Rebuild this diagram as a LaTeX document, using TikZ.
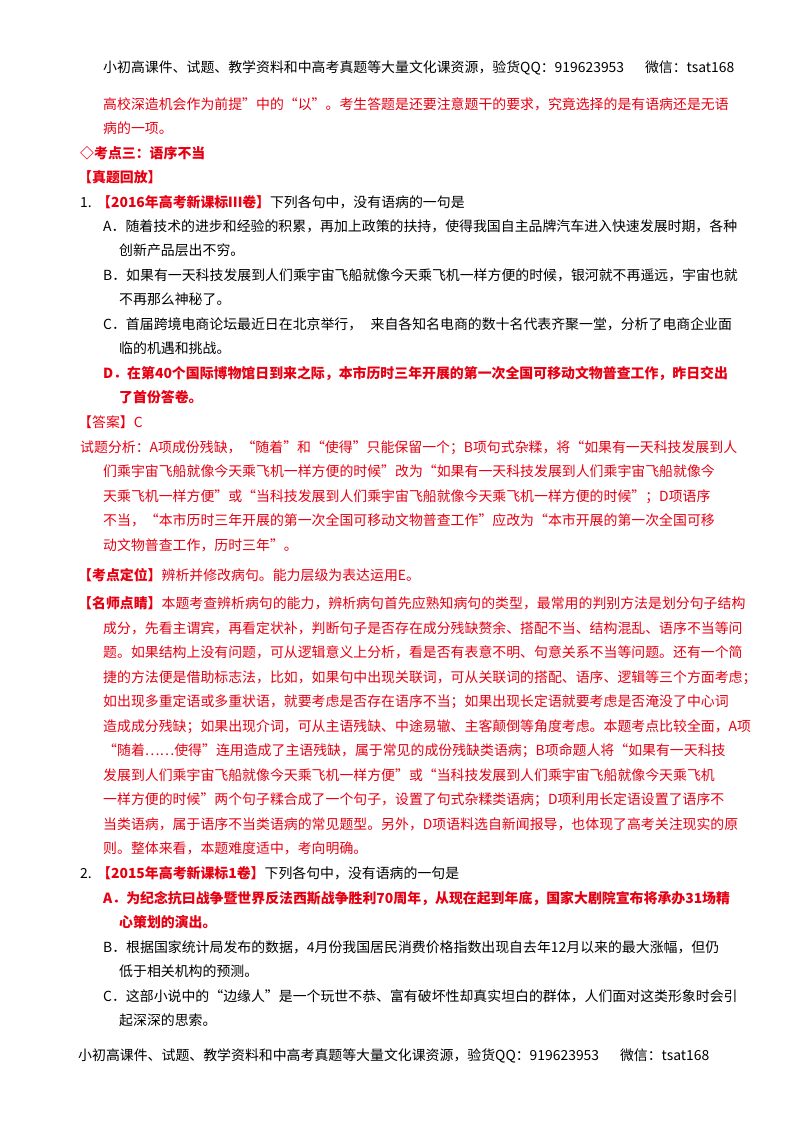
\documentclass[tikz,border=0pt]{standalone}
\usepackage{fontspec}
\setmainfont{Noto Sans CJK SC}
\XeTeXlinebreaklocale "zh"
\XeTeXlinebreakskip=0pt plus 2pt
\definecolor{rd}{HTML}{E60012}
\newcommand{\JL}[3]{\node[anchor=base west,inner sep=0] at (#2,-#1-5) {\makebox[\dimexpr 730pt-#2pt\relax][s]{#3}};}
\newcommand{\PL}[3]{\node[anchor=base west,inner sep=0] at (#2,-#1-5) {#3};}
\begin{document}
\begin{tikzpicture}[x=1pt,y=1pt,font=\fontsize{13.9}{16}\selectfont]
\useasboundingbox (0,0) rectangle (800,-1132);
\JL{68}{103}{小初高课件、试题、教学资料和中高考真题等大量文化课资源，验货QQ：919623953\hspace{1.5em}微信：tsat168}
\begin{scope}[color=rd]
\JL{104}{103}{高校深造机会作为前提”中的“以”。考生答题是还要注意题干的要求，究竟选择的是有语病还是无语}
\PL{128}{103}{病的一项。}
\PL{153}{80}{\bfseries ◇考点三：语序不当}
\PL{177}{78}{\bfseries 【真题回放】}
\end{scope}
\PL{202}{80}{1.}
\PL{202}{97}{\textcolor{rd}{\bfseries 【2016年高考新课标Ⅲ卷】}下列各句中，没有语病的一句是}
\JL{226}{103}{A．随着技术的进步和经验的积累，再加上政策的扶持，使得我国自主品牌汽车进入快速发展时期，各种}
\PL{250}{119}{创新产品层出不穷。}
\JL{275}{103}{B．如果有一天科技发展到人们乘宇宙飞船就像今天乘飞机一样方便的时候，银河就不再遥远，宇宙也就}
\PL{299}{119}{不再那么神秘了。}
\JL{324}{103}{C．首届跨境电商论坛最近日在北京举行，\hspace{0.6em}来自各知名电商的数十名代表齐聚一堂，分析了电商企业面}
\PL{348}{119}{临的机遇和挑战。}
\begin{scope}[color=rd]
\JL{373}{103}{\bfseries D．在第40个国际博物馆日到来之际，本市历时三年开展的第一次全国可移动文物普查工作，昨日交出}
\PL{397}{119}{\bfseries 了首份答卷。}
\PL{422}{78}{【答案】C}
\JL{447}{80}{试题分析：A项成份残缺，“随着”和“使得”只能保留一个；B项句式杂糅，将“如果有一天科技发展到人}
\JL{471}{103}{们乘宇宙飞船就像今天乘飞机一样方便的时候”改为“如果有一天科技发展到人们乘宇宙飞船就像今}
\JL{496}{103}{天乘飞机一样方便”或“当科技发展到人们乘宇宙飞船就像今天乘飞机一样方便的时候”；D项语序}
\JL{520}{103}{不当，“本市历时三年开展的第一次全国可移动文物普查工作”应改为“本市开展的第一次全国可移}
\PL{545}{103}{动文物普查工作，历时三年”。}
\PL{575}{78}{\bfseries 【考点定位】\mdseries 辨析并修改病句。能力层级为表达运用E。}
\JL{603}{78}{\bfseries 【名师点睛】\mdseries 本题考查辨析病句的能力，辨析病句首先应熟知病句的类型，最常用的判别方法是划分句子结构}
\JL{628}{103}{成分，先看主谓宾，再看定状补，判断句子是否存在成分残缺赘余、搭配不当、结构混乱、语序不当等问}
\JL{652}{103}{题。如果结构上没有问题，可从逻辑意义上分析，看是否有表意不明、句意关系不当等问题。还有一个简}
\JL{677}{103}{捷的方法便是借助标志法，比如，如果句中出现关联词，可从关联词的搭配、语序、逻辑等三个方面考虑；}
\JL{701}{103}{如出现多重定语或多重状语，就要考虑是否存在语序不当；如果出现长定语就要考虑是否淹没了中心词}
\JL{726}{103}{造成成分残缺；如果出现介词，可从主语残缺、中途易辙、主客颠倒等角度考虑。本题考点比较全面，A项}
\JL{750}{103}{“随着……使得”连用造成了主语残缺，属于常见的成份残缺类语病；B项命题人将“如果有一天科技}
\JL{775}{103}{发展到人们乘宇宙飞船就像今天乘飞机一样方便”或“当科技发展到人们乘宇宙飞船就像今天乘飞机}
\JL{799}{103}{一样方便的时候”两个句子糅合成了一个句子，设置了句式杂糅类语病；D项利用长定语设置了语序不}
\JL{824}{103}{当类语病，属于语序不当类语病的常见题型。另外，D项语料选自新闻报导，也体现了高考关注现实的原}
\PL{848}{103}{则。整体来看，本题难度适中，考向明确。}
\end{scope}
\PL{873}{80}{2.}
\PL{873}{97}{\textcolor{rd}{\bfseries 【2015年高考新课标1卷】}下列各句中，没有语病的一句是}
\begin{scope}[color=rd]
\JL{898}{103}{\bfseries A．为纪念抗曰战争暨世界反法西斯战争胜利70周年，从现在起到年底，国家大剧院宣布将承办31场精}
\PL{922}{119}{\bfseries 心策划的演出。}
\end{scope}
\JL{947}{103}{B．根据国家统计局发布的数据，4月份我国居民消费价格指数出现自去年12月以来的最大涨幅，但仍}
\PL{971}{119}{低于相关机构的预测。}
\JL{996}{103}{C．这部小说中的“边缘人”是一个玩世不恭、富有破坏性却真实坦白的群体，人们面对这类形象时会引}
\PL{1020}{119}{起深深的思索。}
\node[anchor=base west,inner sep=0] (ft) at (78,-1060) {\makebox[\dimexpr 627pt\relax][s]{小初高课件、试题、教学资料和中高考真题等大量文化课资源，验货QQ：919623953\hspace{1.5em}微信：tsat168}};
\end{tikzpicture}
\end{document}
